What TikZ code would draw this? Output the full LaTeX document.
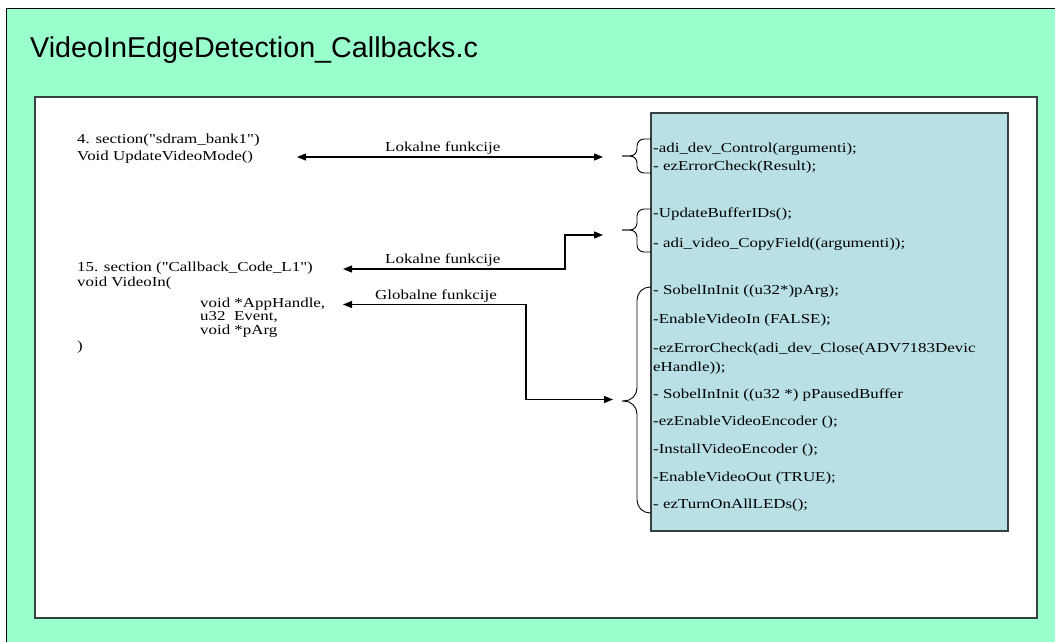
\documentclass[tikz,border=0pt]{standalone}
\usepackage{fontspec}
\newfontfamily\codefont[FakeStretch=1.235]{Liberation Serif}
\newfontfamily\titlefont{Liberation Sans}
\usetikzlibrary{arrows.meta}
\definecolor{slidegreen}{RGB}{153,255,204}
\definecolor{panelblue}{RGB}{185,224,228}
\definecolor{frameline}{RGB}{55,65,65}
\begin{document}
\begin{tikzpicture}[x=1pt,y=-1pt,
  code/.style={font=\codefont\fontsize{13.7}{16}\selectfont, anchor=base west, inner sep=0pt},
  linktext/.style={code},
  link/.style={line width=1.3pt, arrows={Triangle[length=9pt,width=7pt]-Triangle[length=9pt,width=7pt]}},
  callbrace/.style={line width=0.9pt, rounded corners=#1},
  panel/.style={draw=frameline, line width=1.6pt}]
\useasboundingbox (0,0) rectangle (1055,641);
\clip (0,0) rectangle (1055,641);
\fill[white] (0,0) rectangle (1055,641);
% slide background
\fill[slidegreen] (6,8) rectangle (1075,660);
\draw[line width=0.8pt] (6,660) -- (6,8) -- (1075,8);
\node[anchor=base west, inner sep=0pt, font=\titlefont\fontsize{28.7}{34}\selectfont] (title) at (30,57) {VideoInEdgeDetection\_Callbacks.c};
% content frame and function panel
\draw[panel, fill=white] (35,97) rectangle (1037,618);
\draw[panel, fill=panelblue] (651,113) rectangle (1008,531);

% left: function headers
\node[code] (s1a) at (77,143) {4. section("sdram\_bank1")};
\node[code] (s1b) at (77,160) {Void UpdateVideoMode()};
\node[code] (s2a) at (77,271) {15. section ("Callback\_Code\_L1")};
\node[code] (s2b) at (77,286) {void VideoIn(};
\node[code] (s2c) at (200,307) {void *AppHandle,};
\node[code] (s2d) at (200,320) {u32\ \ Event,};
\node[code] (s2e) at (200,334) {void *pArg};
\node[code] (s2f) at (77,350) {)};

% right: called functions
\node[code] (f1) at (653,152) {-adi\_dev\_Control(argumenti);};
\node[code] (f2) at (653,170) {- ezErrorCheck(Result);};
\node[code] (f3) at (653,217) {-UpdateBufferIDs();};
\node[code] (f4) at (653,247.5) {- adi\_video\_CopyField((argumenti));};
\node[code] (f5) at (653,294) {- SobelInInit ((u32*)pArg);};
\node[code] (f6) at (653,323) {-EnableVideoIn (FALSE);};
\node[code] (f7) at (653,352) {-ezErrorCheck(adi\_dev\_Close(ADV7183Devic};
\node[code] (f7b) at (653,371) {eHandle));};
\node[code] (f8) at (653,398) {- SobelInInit ((u32 *) pPausedBuffer};
\node[code] (f9) at (653,425) {-ezEnableVideoEncoder ();};
\node[code] (f10) at (653,453) {-InstallVideoEncoder ();};
\node[code] (f11) at (653,481) {-EnableVideoOut (TRUE);};
\node[code] (f12) at (653,508) {- ezTurnOnAllLEDs();};

% braces grouping the calls
\coordinate (b1) at (622,156);
\coordinate (b2) at (622,230);
\coordinate (b3) at (622,401);
\draw[callbrace=7pt] (651,139) -- (637,139) -- (637,156) -- (b1);
\draw[callbrace=7pt] (b1) -- (637,156) -- (637,173) -- (651,173);
\draw[callbrace=7pt] (651,209) -- (637,209) -- (637,230) -- (b2);
\draw[callbrace=7pt] (b2) -- (637,230) -- (637,252) -- (651,252);
\draw[callbrace=13pt] (651,287) -- (637,287) -- (637,401) -- (b3);
\draw[callbrace=13pt] (b3) -- (637,401) -- (637,513) -- (651,513);

% connectors
\coordinate (a1l) at (297,157);
\coordinate (a1r) at (603,157);
\coordinate (a2l) at (343,269);
\coordinate (a2r) at (603,235);
\coordinate (a3l) at (343,304.5);
\coordinate (a3r) at (613,399.5);
\draw[link] (a1l) -- (a1r);
\draw[link] (a2l) -| (565,235) -- (a2r);
\draw[link] (a3l) -| (526,399.5) -- (a3r);
\node[linktext] (l1) at (385,151) {Lokalne funkcije};
\node[linktext] (l2) at (385,263) {Lokalne funkcije};
\node[linktext] (l3) at (375,299) {Globalne funkcije};
\end{tikzpicture}
\end{document}
